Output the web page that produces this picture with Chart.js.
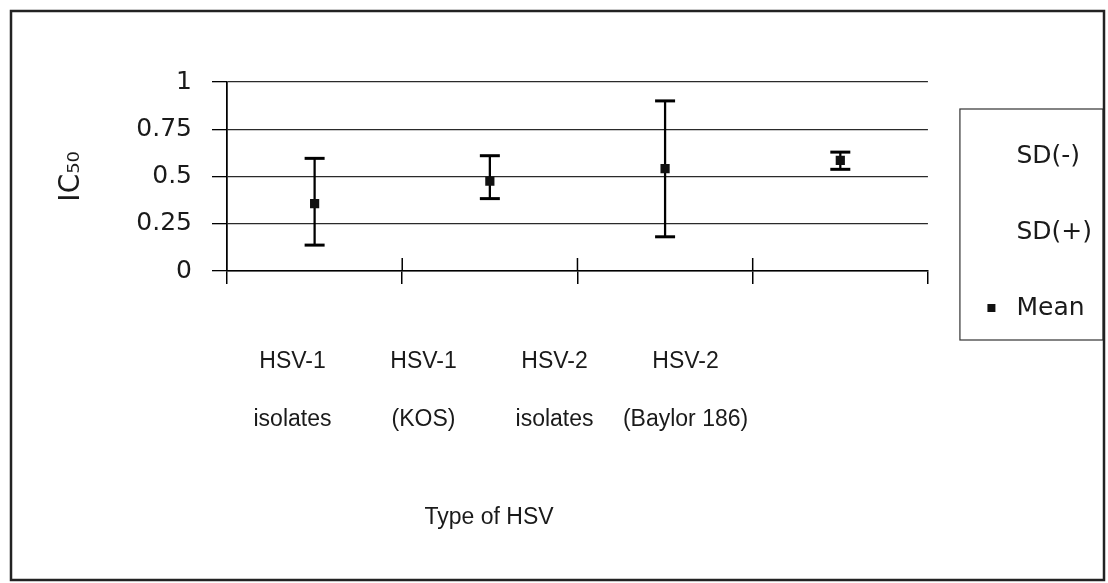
<!DOCTYPE html>
<html>
<head>
<meta charset="utf-8">
<script src="https://cdn.jsdelivr.net/npm/chart.js@4.4.1/dist/chart.umd.min.js"></script>
<style>
  html, body { margin: 0; padding: 0; background: #ffffff; }
  #wrap { width: 1108px; height: 583px; position: relative; }
</style>
</head>
<body>
<div id="wrap"><canvas id="c"></canvas></div>
<script>
// ---- data ----
const categories = ['HSV-1 isolates', 'HSV-1 (KOS)', 'HSV-2 isolates', 'HSV-2 (Baylor 186)'];
const categoryLines = [['HSV-1', 'isolates'], ['HSV-1', '(KOS)'], ['HSV-2', 'isolates'], ['HSV-2', '(Baylor 186)']];
const meanValues = [0.356, 0.476, 0.542, 0.585];
const sdLowValues = [0.137, 0.383, 0.181, 0.538];
const sdHighValues = [0.596, 0.610, 0.900, 0.629];
const yTickValues = [0, 0.25, 0.5, 0.75, 1];
const yTickLabels = ['0', '0.25', '0.5', '0.75', '1'];
const seriesNames = ['SD(-)', 'SD(+)', 'Mean'];
const xTitle = 'Type of HSV';
const yTitle = 'IC\u2085\u2080';

const NARROW = "'Liberation Sans', Arial, sans-serif";
const WIDE = "'DejaVu Sans', 'Liberation Sans', sans-serif";
const TEXT = '#1a1a1a';

const decorPlugin = {
  id: 'decor',
  afterDraw(chart) {
    const ctx = chart.ctx;
    const xs = chart.scales.x;
    const x2 = chart.scales.x2;
    const area = chart.chartArea;
    ctx.save();
    // short tick marks above the x axis at category boundaries
    ctx.strokeStyle = '#000';
    ctx.lineWidth = 1.5;
    for (let i = 1; i < categories.length; i++) {
      const px = xs.getPixelForValue(i - 0.5);
      ctx.beginPath();
      ctx.moveTo(px, area.bottom - 13);
      ctx.lineTo(px, area.bottom);
      ctx.stroke();
    }
    // x axis title centred over the label group
    ctx.fillStyle = TEXT;
    ctx.font = "23px " + NARROW;
    ctx.textAlign = 'center';
    ctx.textBaseline = 'middle';
    ctx.fillText(xTitle, x2.getPixelForValue((categories.length - 1) / 2), 518);
    // legend frame
    const lg = chart.legend;
    ctx.strokeStyle = '#333';
    ctx.lineWidth = 1.2;
    ctx.strokeRect(lg.left + 32, lg.top + 27, lg.right + 1 - (lg.left + 32), 231);
    // outer frame
    ctx.strokeStyle = '#222';
    ctx.lineWidth = 2.5;
    ctx.strokeRect(11, 11, 1093, 569);
    ctx.restore();
  }
};

new Chart(document.getElementById('c'), {
  data: {
    labels: categories,
    datasets: [
      {
        type: 'line', label: seriesNames[0], data: sdLowValues,
        showLine: false, pointStyle: 'line', pointRadius: 10, pointHoverRadius: 10,
        borderColor: '#000', backgroundColor: '#000', pointBorderWidth: 3, borderWidth: 3, order: 1
      },
      {
        type: 'line', label: seriesNames[1], data: sdHighValues,
        showLine: false, pointStyle: 'line', pointRadius: 10, pointHoverRadius: 10,
        borderColor: '#000', backgroundColor: '#000', pointBorderWidth: 3, borderWidth: 3, order: 1
      },
      {
        type: 'line', label: seriesNames[2], data: meanValues,
        showLine: false, pointStyle: 'rect', pointRadius: 6.5, pointHoverRadius: 6.5,
        borderColor: '#111', backgroundColor: '#111', pointBorderWidth: 0, borderWidth: 0, order: 0
      },
      {
        type: 'bar', label: 'range', data: sdLowValues.map((v, i) => [v, sdHighValues[i]]),
        backgroundColor: '#000', borderWidth: 0, barThickness: 1.6, order: 2
      }
    ]
  },
  options: {
    responsive: true,
    maintainAspectRatio: false,
    animation: false,
    layout: { padding: { top: 82, left: 20, right: 6, bottom: 134 } },
    plugins: {
      tooltip: { enabled: false },
      legend: {
        position: 'right',
        align: 'start',
        fullSize: true,
        title: { display: true, text: '', font: { size: 1, lineHeight: 1 }, padding: { top: 0, bottom: 9.5 } },
        labels: {
          usePointStyle: true,
          boxHeight: 8,
          padding: 51,
          color: TEXT,
          font: { family: WIDE, size: 25 },
          filter: (item) => item.datasetIndex < 3,
          sort: (a, b) => a.datasetIndex - b.datasetIndex,
          generateLabels: (chart) => {
            const items = Chart.defaults.plugins.legend.labels.generateLabels(chart);
            items.forEach(it => {
              if (it.datasetIndex < 2) {
                it.fillStyle = 'rgba(0,0,0,0)';
                it.strokeStyle = 'rgba(0,0,0,0)';
              } else if (it.datasetIndex === 2) {
                it.fillStyle = '#111';
                it.strokeStyle = '#111';
                it.lineWidth = 0;
                it.pointStyle = 'rect';
              }
            });
            return items;
          }
        }
      }
    },
    scales: {
      x: {
        type: 'category',
        position: 'bottom',
        weight: 0,
        offset: true,
        grid: {
          offset: true,
          drawOnChartArea: true,
          drawTicks: true,
          tickLength: 13,
          lineWidth: 1.5,
          color: (c) => (c.index === 0 || c.index === categories.length) ? '#000' : 'rgba(0,0,0,0)',
          tickColor: '#000'
        },
        border: { display: true, color: '#000', width: 1.5 },
        ticks: { display: false }
      },
      x2: {
        type: 'linear',
        position: 'bottom',
        weight: 1,
        min: -0.5,
        max: 4.85,
        afterBuildTicks: (s) => { s.ticks = categoryLines.map((_, i) => ({ value: i })); },
        afterFit: (s) => { s.height = 165; },
        grid: { display: false, drawTicks: false },
        border: { display: false },
        ticks: {
          autoSkip: false,
          maxRotation: 0,
          minRotation: 0,
          padding: 49,
          color: TEXT,
          font: { family: NARROW, size: 23, lineHeight: 2.52 },
          callback: (v) => categoryLines[v]
        }
      },
      y: {
        type: 'linear',
        min: 0,
        max: 1,
        afterBuildTicks: (s) => { s.ticks = yTickValues.map(v => ({ value: v })); },
        afterFit: (s) => { s.width = 207; },
        grid: { color: '#2a2a2a', lineWidth: 1.3, tickLength: 15, tickColor: '#000' },
        border: { display: true, color: '#000', width: 1.5 },
        ticks: {
          color: TEXT, padding: 20, font: { family: WIDE, size: 25 },
          callback: (v, i) => yTickLabels[yTickValues.indexOf(v)]
        },
        title: {
          display: true,
          text: yTitle,
          color: TEXT,
          font: { family: WIDE, size: 28 },
          padding: { top: 35, bottom: 0 }
        }
      }
    }
  },
  plugins: [decorPlugin]
});
</script>
</body>
</html>
